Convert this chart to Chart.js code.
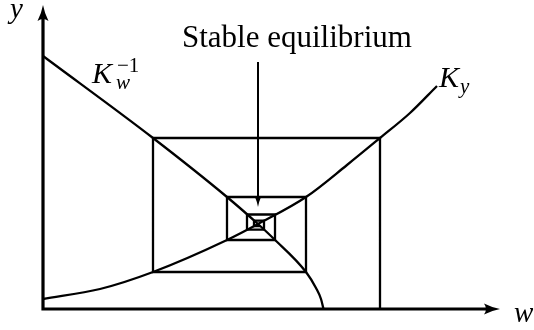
<!DOCTYPE html>
<html>
<head>
<meta charset="utf-8">
<script src="https://cdn.jsdelivr.net/npm/chart.js@4"></script>
</head>
<body style="margin:0">
<div style="width:534px;height:330px"><canvas id="c" width="534" height="330"></canvas></div>
<script>
// ---- data ----
const kyW = [0, 5.7, 11.0, 18.4, 21.5, 26.3, 30.4, 33.7, 36.7, 39.4];
const kyY = [1.0, 2.0, 3.7, 6.9, 8.5, 11.2, 14.4, 17.1, 19.6, 22.3];

const kwW = [0, 11.0, 18.4, 21.5, 23.0, 26.3, 27.3, 27.8, 28.05];
const kwY = [25.3, 17.1, 11.2, 8.5, 7.1, 3.7, 2.1, 1.0, 0];

const cobW = [33.7, 33.7, 11.0, 11.0, 26.3, 26.3, 18.4, 18.4, 23.2, 23.2, 20.4, 20.4, 22.1, 22.1, 21.1, 21.1, 21.7];
const cobY = [0, 17.1, 17.1, 3.7, 3.7, 11.2, 11.2, 6.9, 6.9, 9.45, 9.45, 7.93, 7.93, 8.84, 8.84, 8.29, 8.29];

const equilibrium = { w: 21.5, yFrom: 24.7, yTo: 10.2 };
const axisEnds = { w: 45.7, y: 30.4 };

const labelTitle = "Stable equilibrium";
const labelKw = { base: "K", sub: "w", sup: "\u22121", w: 4.9, y: 22.6 };
const labelKy = { base: "K", sub: "y", w: 39.6, y: 22.2 };
const axisLabelX = "w";
const axisLabelY = "y";

const pts = (xs, ys) => xs.map((x, i) => ({ x: x, y: ys[i] }));

const overlay = {
  id: 'marks',
  afterDatasetsDraw(chart) {
    const ctx = chart.ctx;
    const xs = chart.scales.x, ys = chart.scales.y;
    const px = v => xs.getPixelForValue(v), py = v => ys.getPixelForValue(v);
    ctx.save();
    ctx.strokeStyle = '#000';
    ctx.fillStyle = '#000';
    ctx.lineWidth = 3.2;
    ctx.beginPath();
    ctx.moveTo(px(0), py(0) + 1.6);
    ctx.lineTo(px(0), py(axisEnds.y) + 8);
    ctx.moveTo(px(0) - 1.6, py(0));
    ctx.lineTo(px(axisEnds.w) - 8, py(0));
    ctx.stroke();
    const tx = px(axisEnds.w), ty = py(0);
    ctx.beginPath();
    ctx.moveTo(tx, ty);
    ctx.quadraticCurveTo(tx - 8, ty - 1.5, tx - 16, ty - 5.5);
    ctx.quadraticCurveTo(tx - 12, ty, tx - 16, ty + 5.5);
    ctx.quadraticCurveTo(tx - 8, ty + 1.5, tx, ty);
    ctx.fill();
    const ux = px(0), uy = py(axisEnds.y);
    ctx.beginPath();
    ctx.moveTo(ux, uy);
    ctx.quadraticCurveTo(ux - 1.5, uy + 8, ux - 5.5, uy + 16);
    ctx.quadraticCurveTo(ux, uy + 12, ux + 5.5, uy + 16);
    ctx.quadraticCurveTo(ux + 1.5, uy + 8, ux, uy);
    ctx.fill();
    const ex = px(equilibrium.w), ey0 = py(equilibrium.yFrom), ey1 = py(equilibrium.yTo);
    ctx.lineWidth = 2;
    ctx.beginPath();
    ctx.moveTo(ex, ey0);
    ctx.lineTo(ex, ey1 - 6);
    ctx.stroke();
    ctx.beginPath();
    ctx.moveTo(ex, ey1);
    ctx.quadraticCurveTo(ex - 0.8, ey1 - 5, ex - 3, ey1 - 10);
    ctx.quadraticCurveTo(ex, ey1 - 7.5, ex + 3, ey1 - 10);
    ctx.quadraticCurveTo(ex + 0.8, ey1 - 5, ex, ey1);
    ctx.fill();
    ctx.restore();
  },
  afterDraw(chart) {
    const ctx = chart.ctx;
    const xs = chart.scales.x, ys = chart.scales.y;
    const px = v => xs.getPixelForValue(v), py = v => ys.getPixelForValue(v);
    ctx.save();
    ctx.fillStyle = '#000';
    ctx.textBaseline = 'alphabetic';
    ctx.textAlign = 'left';
    ctx.font = '31px "Liberation Serif"';
    ctx.fillText(labelTitle, 182, 47, 232);

    let kx = px(labelKw.w), ky = py(labelKw.y);
    ctx.font = 'italic 30px "Liberation Serif"';
    ctx.fillText(labelKw.base, kx, ky);
    ctx.font = 'italic 21px "Liberation Serif"';
    ctx.fillText(labelKw.sub, kx + 24, ky + 6);
    ctx.font = '21px "Liberation Serif"';
    ctx.fillText(labelKw.sup, kx + 25, ky - 11);
    kx = px(labelKy.w); ky = py(labelKy.y);
    ctx.font = 'italic 30px "Liberation Serif"';
    ctx.fillText(labelKy.base, kx, ky);
    ctx.font = 'italic 21px "Liberation Serif"';
    ctx.fillText(labelKy.sub, kx + 21, ky + 6);
    ctx.font = 'italic 29px "Liberation Serif"';
    ctx.fillText(axisLabelY, 10, 18);
    ctx.fillText(axisLabelX, 514, 322);
    ctx.restore();
  }
};

const chart = new Chart(document.getElementById('c'), {
  type: 'line',
  data: {
    datasets: [
      { label: 'Ky', data: pts(kyW, kyY), borderColor: '#000', borderWidth: 2.3,
        pointRadius: 0, cubicInterpolationMode: 'monotone', fill: false, clip: false },
      { label: 'Kw-1', data: pts(kwW, kwY), borderColor: '#000', borderWidth: 2.3,
        pointRadius: 0, cubicInterpolationMode: 'monotone', fill: false, clip: false },
      { label: 'cobweb', data: pts(cobW, cobY), borderColor: '#000', borderWidth: 2.3,
        pointRadius: 0, tension: 0, fill: false, clip: false }
    ]
  },
  options: {
    responsive: false,
    animation: false,
    devicePixelRatio: 1,
    layout: { padding: { left: 43, right: 21, top: 2, bottom: 21 } },
    scales: {
      x: { type: 'linear', min: 0, max: 47, display: false },
      y: { type: 'linear', min: 0, max: 30.7, display: false }
    },
    plugins: { legend: { display: false }, tooltip: { enabled: false } }
  },
  plugins: [overlay]
});
setTimeout(() => chart.draw(), 150);
</script>
</body>
</html>
